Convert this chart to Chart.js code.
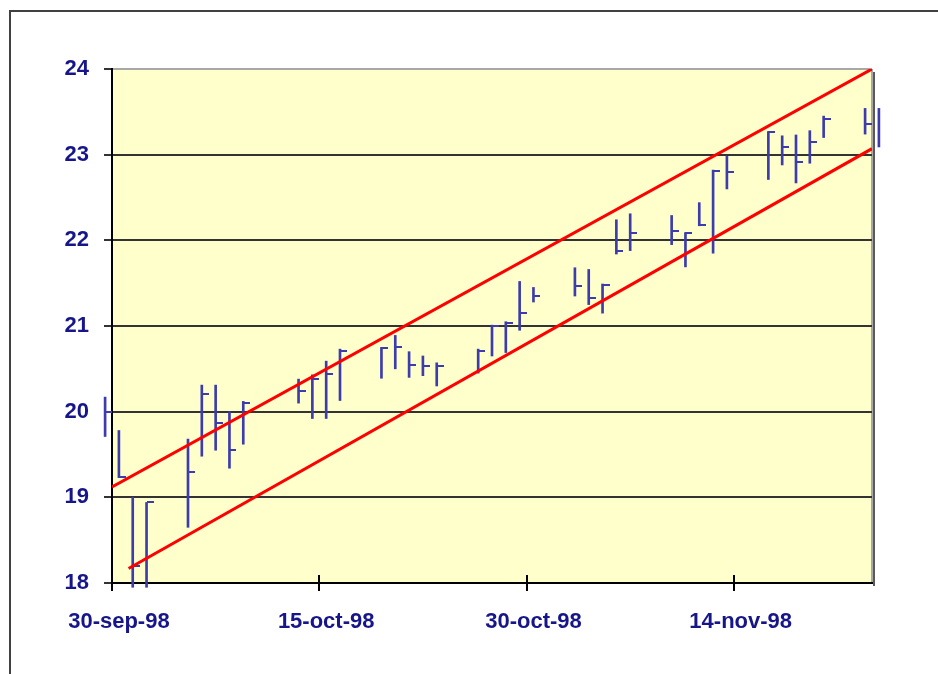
<!DOCTYPE html>
<html>
<head>
<meta charset="utf-8">
<title>Price channel</title>
<script src="https://cdn.jsdelivr.net/npm/chart.js@4.4.1/dist/chart.umd.min.js"></script>
<style>
  html, body { margin: 0; padding: 0; background: #ffffff; }
  #wrap { width: 938px; height: 674px; }
</style>
</head>
<body>
<div id="wrap"><canvas id="chart" width="938" height="674"></canvas></div>
<script>
// trading days on the chart
const dates = [
  '1998-09-29', '1998-09-30', '1998-10-01', '1998-10-02', '1998-10-05', '1998-10-06',
  '1998-10-07', '1998-10-08', '1998-10-09', '1998-10-13', '1998-10-14', '1998-10-15',
  '1998-10-16', '1998-10-19', '1998-10-20', '1998-10-21', '1998-10-22', '1998-10-23',
  '1998-10-26', '1998-10-27', '1998-10-28', '1998-10-29', '1998-10-30', '1998-11-02',
  '1998-11-03', '1998-11-04', '1998-11-05', '1998-11-06', '1998-11-09', '1998-11-10',
  '1998-11-11', '1998-11-12', '1998-11-13', '1998-11-16', '1998-11-17', '1998-11-18',
  '1998-11-19', '1998-11-20', '1998-11-23', '1998-11-24'
];
const highs = [
  20.17, 19.78, 19.00, 18.94, 19.68, 20.31, 20.31, 20.00, 20.12, 20.38,
  20.43, 20.59, 20.73, 20.75, 20.89, 20.70, 20.65, 20.57, 20.73, 21.01,
  21.05, 21.52, 21.45, 21.68, 21.66, 21.49, 22.24, 22.31, 22.29, 22.09,
  22.44, 22.82, 22.98, 23.27, 23.22, 23.23, 23.28, 23.45, 23.54, 23.54
];
const lows = [
  19.71, 19.23, 17.95, 17.95, 18.65, 19.48, 19.55, 19.34, 19.62, 20.10,
  19.92, 19.92, 20.13, 20.39, 20.50, 20.40, 20.42, 20.30, 20.45, 20.65,
  20.69, 20.95, 21.28, 21.35, 21.25, 21.15, 21.84, 21.88, 21.95, 21.69,
  22.17, 21.85, 22.60, 22.71, 22.88, 22.67, 22.90, 23.20, 23.24, 23.09
];
const closes = [
  20.00, 19.24, 18.20, 18.94, 19.29, 20.21, 19.87, 19.55, 20.10, 20.24,
  20.38, 20.44, 20.71, 20.74, 20.76, 20.54, 20.53, 20.53, 20.71, 21.00,
  21.03, 21.15, 21.35, 21.47, 21.33, 21.48, 21.88, 22.08, 22.11, 22.08,
  22.18, 22.81, 22.80, 23.26, 23.09, 22.92, 23.15, 23.42, 23.36, null
];

// channel lines (day offset from 30-sep-98, value)
const upperDays = [0, 55];
const upperValues = [19.12, 24.0];
const lowerDays = [1.2, 55];
const lowerValues = [18.17, 23.07];

const startDate = '1998-09-30';
const lastDay = 55;
const xTickDays = [0, 15, 30, 45];
const xTickLabels = ['30-sep-98', '15-oct-98', '30-oct-98', '14-nov-98'];
const yMin = 18;
const yMax = 24;

const navy = '#16168a';
const barBlue = '#3c3cac';
const labelFont = { family: "'Liberation Sans', Arial, sans-serif", size: 22, weight: 'bold' };

function dayOf(d) {
  return (Date.parse(d) - Date.parse(startDate)) / 86400000;
}

// each day sits in the middle of its slot
const barData = dates.map((d, i) => ({ x: dayOf(d) + 0.5, y: [lows[i], highs[i]] }));

const frame = {
  id: 'frame',
  beforeDraw(chart) {
    const { ctx, chartArea: a } = chart;
    ctx.save();
    ctx.fillStyle = '#ffffff';
    ctx.fillRect(0, 0, chart.width, chart.height);
    ctx.strokeStyle = '#404040';
    ctx.lineWidth = 2;
    ctx.strokeRect(10, 11, chart.width + 40, chart.height + 40);
    ctx.fillStyle = '#ffffcc';
    ctx.fillRect(a.left, a.top, a.right - a.left, a.bottom - a.top);
    // right edge and shadow of the plot area
    ctx.fillStyle = '#a8a8a8';
    ctx.fillRect(a.right - 1, a.top, 2, a.bottom - a.top);
    ctx.fillStyle = '#5a5a5a';
    ctx.fillRect(a.right + 1, a.top + 3, 2, a.bottom - a.top);
    ctx.restore();
  },
  afterDatasetDraw(chart, args) {
    if (args.index !== 0) return;
    const { ctx } = chart;
    const xs = chart.scales.x;
    const ys = chart.scales.y;
    ctx.save();
    ctx.fillStyle = barBlue;
    barData.forEach((p, i) => {
      if (closes[i] === null) return;
      const px = Math.round(xs.getPixelForValue(p.x));
      const py = Math.round(ys.getPixelForValue(closes[i]));
      ctx.fillRect(px, py - 1, 7, 2);
    });
    ctx.restore();
  },
  afterDraw(chart) {
    const { ctx, chartArea: a } = chart;
    const xs = chart.scales.x;
    ctx.save();
    ctx.fillStyle = '#000000';
    xTickDays.forEach((d) => {
      const px = Math.round(xs.getPixelForValue(d));
      ctx.fillRect(px - 1, a.bottom - 8, 2, 16);
    });
    ctx.restore();
  }
};

new Chart(document.getElementById('chart'), {
  type: 'bar',
  data: {
    datasets: [
      {
        label: 'High-Low',
        data: barData,
        backgroundColor: barBlue,
        borderWidth: 0,
        barThickness: 2,
        clip: false,
        order: 2
      },
      {
        type: 'line',
        label: 'Upper',
        data: upperDays.map((d, i) => ({ x: d, y: upperValues[i] })),
        borderColor: '#ff0000',
        borderWidth: 3,
        pointRadius: 0,
        order: 1
      },
      {
        type: 'line',
        label: 'Lower',
        data: lowerDays.map((d, i) => ({ x: d, y: lowerValues[i] })),
        borderColor: '#ff0000',
        borderWidth: 3,
        pointRadius: 0,
        order: 1
      }
    ]
  },
  options: {
    responsive: false,
    animation: false,
    devicePixelRatio: 1,
    layout: { padding: { top: 69, right: 66, left: 0, bottom: 0 } },
    plugins: {
      legend: { display: false },
      tooltip: { enabled: false }
    },
    scales: {
      x: {
        type: 'linear',
        min: 0,
        max: lastDay,
        offset: false,
        afterBuildTicks: (axis) => {
          axis.ticks = xTickDays.map((d) => ({ value: d + 0.5 }));
        },
        afterFit: (scale) => { scale.height = 91; },
        ticks: {
          autoSkip: false,
          maxRotation: 0,
          padding: 26,
          color: navy,
          font: labelFont,
          callback: (value, index) => xTickLabels[index]
        },
        grid: { display: false, drawTicks: false },
        border: { display: true, color: '#000000', width: 2 }
      },
      y: {
        min: yMin,
        max: yMax,
        afterFit: (scale) => { scale.width = 112; },
        ticks: {
          stepSize: 1,
          padding: 15,
          color: navy,
          font: labelFont
        },
        grid: {
          color: (ctx) => (ctx.tick && ctx.tick.value === yMax ? '#a8a8a8' : '#333333'),
          lineWidth: 2,
          drawTicks: true,
          tickLength: 8,
          tickColor: '#333333',
          tickWidth: 2
        },
        border: { display: true, color: '#000000', width: 2 }
      }
    }
  },
  plugins: [frame]
});
</script>
</body>
</html>
